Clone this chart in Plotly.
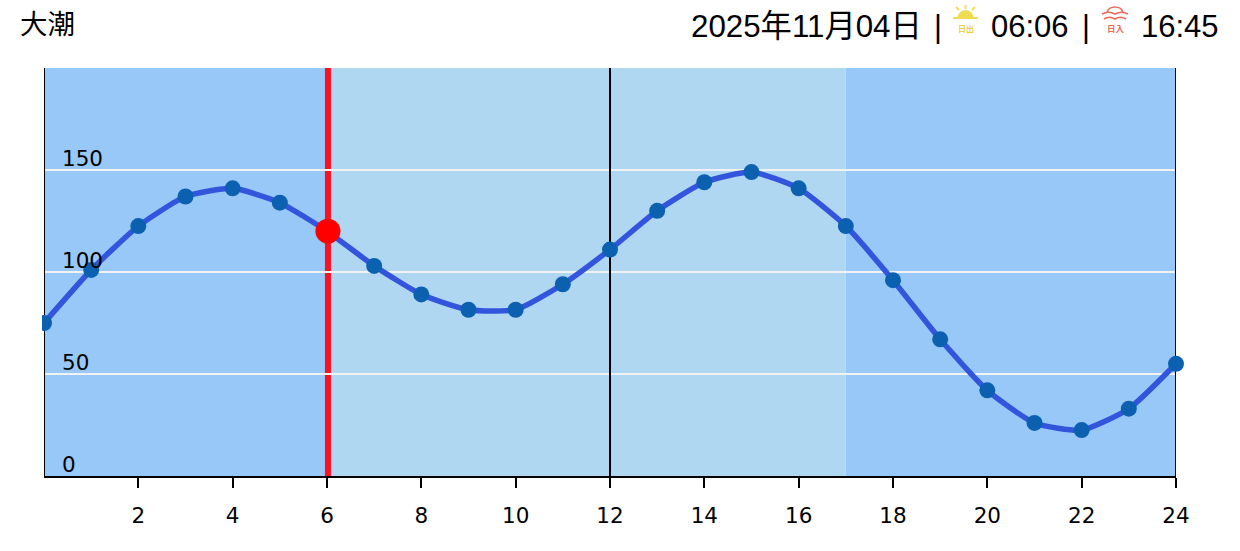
import plotly.graph_objects as go

hours = list(range(25))
tide = [75, 101, 122.5, 137, 141, 134, 120, 103, 89, 81.5, 81.5, 94, 111, 130, 144, 149, 141, 122.5, 96, 67, 42, 26, 22.5, 33, 55]
x_ticks = list(range(2, 25, 2))
y_ticks = [0, 50, 100, 150]
y_labels = ["0", "50", "100", "150"]
grid_vals = [50, 100, 150, 200]
frame_hours = [0, 12, 24]
y_top = 200
now_hour = 6.02
now_value = 120
sun_start = 6
sun_end = 17
title_left = "大潮"
date_text = "2025年11月04日"
sunrise = "06:06"
sunset = "16:45"

W, H = 1240, 551
L, R, T, B = 44, 1176, 68, 476
HEAD = "Liberation Sans, Noto Sans CJK JP, sans-serif"
AXIS = "DejaVu Sans, sans-serif"
SUN = "#f0dc50"
DUSK = "#ea6a5a"

def px(v):
    return (v - L) / (R - L)

def py(v):
    return (B - v) / (B - T)

def seg(x0, y0, x1, y1, color, width=1.5):
    return dict(type="line", xref="paper", yref="paper", x0=px(x0), x1=px(x1), y0=py(y0), y1=py(y1),
                line=dict(color=color, width=width), layer="above")

def label(x, y, text, size, color="#000", anchor="left", font=HEAD):
    return dict(xref="paper", yref="paper", x=px(x), y=py(y), text=text, showarrow=False, xanchor=anchor,
                yanchor="middle", font=dict(size=size, color=color, family=font), borderpad=0, borderwidth=0)

def wave(x0, x1, y, color):
    xm = (x0 + x1) / 2
    return dict(type="path", xref="paper", yref="paper", line=dict(color=color, width=1.6), layer="above",
                path=(f"M {px(x0)} {py(y)} Q {px((x0 + xm) / 2)} {py(y - 3.5)} {px(xm)} {py(y)} "
                      f"Q {px((xm + x1) / 2)} {py(y - 3.5)} {px(x1)} {py(y)}"))

fig = go.Figure()
for hour in frame_hours:
    fig.add_trace(go.Scatter(x=[hour, hour], y=[0, y_top], mode="lines", line=dict(color="#000", width=2),
                             hoverinfo="skip", cliponaxis=False))
fig.add_trace(go.Scatter(x=hours, y=tide, mode="lines+markers", line=dict(color="#3355dd", width=5.5, shape="spline", smoothing=0.55),
                         marker=dict(color="#0b60b0", size=16), hoverinfo="skip", cliponaxis=False))
fig.add_trace(go.Scatter(x=[now_hour], y=[now_value], mode="markers", marker=dict(color="#ff0000", size=25), hoverinfo="skip", cliponaxis=False))

shapes = [
    dict(type="rect", xref="x", yref="y", x0=0, x1=sun_start, y0=0, y1=y_top, fillcolor="#98c8f7", line_width=0, layer="below"),
    dict(type="rect", xref="x", yref="y", x0=sun_start, x1=sun_end, y0=0, y1=y_top, fillcolor="#b0d7f1", line_width=0, layer="below"),
    dict(type="rect", xref="x", yref="y", x0=sun_end, x1=24, y0=0, y1=y_top, fillcolor="#98c8f7", line_width=0, layer="below"),
    dict(type="line", xref="x", yref="y", x0=now_hour, x1=now_hour, y0=0, y1=y_top, line=dict(color="#ff1020", width=6), layer="below"),
    # the first marker is cut off just left of the axis
    dict(type="rect", xref="paper", yref="paper", x0=px(30), x1=px(42), y0=0, y1=1, fillcolor="#fff", line_width=0, layer="above"),
    # sunrise icon
    dict(type="path", xref="paper", yref="paper", line_width=0, fillcolor=SUN, layer="above",
         path=f"M {px(957.5)} {py(18)} C {px(958)} {py(7.5)} {px(973)} {py(7.5)} {px(973.5)} {py(18)} Z"),
    seg(953, 18, 978, 18, SUN, 2),
    seg(965.5, 5, 965.5, 9, SUN, 1.8),
    seg(956, 7, 959, 10, SUN, 1.8),
    seg(975, 7, 972, 10, SUN, 1.8),
    # sunset icon
    wave(1102, 1128, 14, DUSK),
    wave(1104, 1126, 19, DUSK),
    dict(type="path", xref="paper", yref="paper", line=dict(color=DUSK, width=1.6), layer="above",
         path=f"M {px(1107)} {py(13)} C {px(1108)} {py(5)} {px(1122)} {py(5)} {px(1123)} {py(13)}"),
]

annotations = [
    label(20, 25, title_left, 27.5),
    label(691, 27, date_text, 31.3),
    label(934, 27, "|", 30.5),
    label(991, 27, sunrise, 31),
    label(1082, 27, "|", 30.5),
    label(1141, 27, sunset, 31),
    label(965.5, 29.5, "<b>日出</b>", 8, "#eed040", "center"),
    label(1115.5, 29.5, "<b>日入</b>", 8.5, DUSK, "center"),
]
for value, text in zip(y_ticks, y_labels):
    annotations.append(dict(xref="x", yref="y", x=0, y=value, text=text, showarrow=False, xanchor="left", yanchor="middle",
                            xshift=18, yshift=12, borderpad=0, borderwidth=0,
                            font=dict(family=AXIS, size=21.5, color="#000")))

fig.update_layout(
    width=W, height=H, margin=dict(l=L, r=W - R, t=T, b=H - B),
    paper_bgcolor="#fff", plot_bgcolor="#fff", showlegend=False, shapes=shapes, annotations=annotations,
    xaxis=dict(range=[0, 24], tickvals=x_ticks, ticks="outside", ticklen=10, tickcolor="#000", tickwidth=2,
               showgrid=False, zeroline=False, showline=True, linecolor="#000", linewidth=2,
               tickfont=dict(family=AXIS, size=21.5, color="#000"), ticklabelstandoff=9),
    yaxis=dict(range=[0, y_top], tickvals=grid_vals, showticklabels=False, ticks="", showgrid=True, gridcolor="#f2f2f2", gridwidth=1.5,
               zeroline=False, showline=False),
)

fig.write_html("out.html", post_script="document.body.style.margin='0';", config=dict(displayModeBar=False))
